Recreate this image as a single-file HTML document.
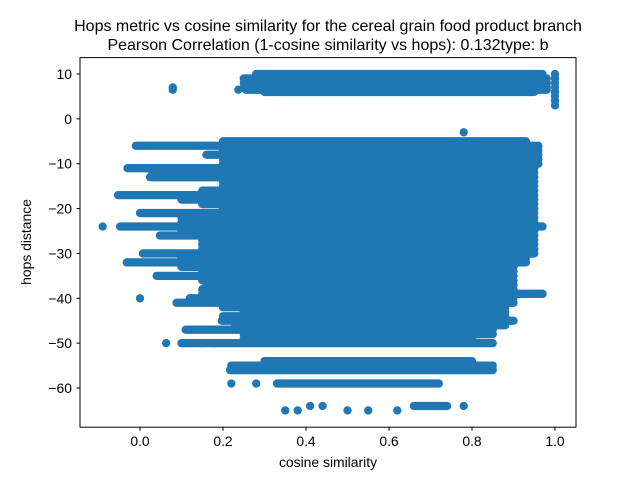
<!DOCTYPE html>
<html><head><meta charset="utf-8"><style>
body{margin:0;background:#fff;}
svg text{font-family:"Liberation Sans","DejaVu Sans",sans-serif;fill:#000;}
</style></head><body>
<svg width="640" height="480" xmlns="http://www.w3.org/2000/svg">
<rect width="640" height="480" fill="#fff"/>
<text x="328" y="31" text-anchor="middle" font-size="16">Hops metric vs cosine similarity for the cereal grain food product branch</text>
<text x="328" y="50" text-anchor="middle" font-size="16">Pearson Correlation (1-cosine similarity vs hops): 0.132type: b</text>
<g id="marks"></g>
<rect x="80" y="57.6" width="496" height="369.6" fill="none" stroke="#000" stroke-width="1"/>
<g id="axes"></g>
<text x="328" y="467" text-anchor="middle" font-size="13.9">cosine similarity</text>
<text transform="translate(31,242) rotate(-90)" text-anchor="middle" font-size="13.9">hops distance</text>
</svg>
<script>
const xTicks=[0,0.2,0.4,0.6,0.8,1.0];
const xTickLabels=["0.0","0.2","0.4","0.6","0.8","1.0"];
const yTicks=[10,0,-10,-20,-30,-40,-50,-60];
const yTickLabels=["10","0","\u221210","\u221220","\u221230","\u221240","\u221250","\u221260"];
const bandY=[10,9,8,7,6.5,6,-5,-6,-7,-8,-9,-10,-11,-12,-13,-14,-15,-16,-17,-18,-19,-20,-21,-22,-23,-24,-25,-26,-27,-28,-29,-30,-31,-32,-33,-34,-35,-36,-37,-38,-39,-40,-41,-42,-43,-44,-45,-46,-47,-48,-49,-50,-54,-55,-56,-59,-64];
const bandX0=[0.28,0.25,0.25,0.25,0.255,0.3,0.2,-0.01,0.2,0.16,0.2,0.2,-0.03,0.03,0.024,0.2,0.2,0.15,-0.053,0.1,0.15,0.2,0.0,0.1,0.1,-0.048,0.1,0.048,0.15,0.15,0.15,0.007,0.1,-0.032,0.1,0.15,0.04,0.15,0.16,0.15,0.15,0.12,0.088,0.2,0.25,0.2,0.197,0.23,0.11,0.25,0.25,0.1,0.3,0.22,0.217,0.33,0.66];
const bandX1=[0.97,0.98,0.98,0.98,0.98,0.95,0.93,0.96,0.96,0.96,0.96,0.96,0.95,0.95,0.95,0.95,0.95,0.95,0.95,0.95,0.95,0.95,0.95,0.95,0.95,0.97,0.95,0.95,0.95,0.95,0.95,0.95,0.93,0.93,0.9,0.9,0.9,0.9,0.9,0.9,0.97,0.9,0.9,0.88,0.88,0.88,0.9,0.88,0.85,0.85,0.8,0.85,0.8,0.85,0.85,0.72,0.74];
const ptX=[-0.09,0.079,0.079,0.237,0.0,0.063,0.12,0.15,0.18,0.22,0.28,0.35,0.38,0.41,0.44,0.5,0.55,0.62,0.78,0.96,0.97,0.83,0.78,1.0,1.0,1.0,1.0,1.0,1.0,1.0,1.0];
const ptY=[-24,6.5,7,6.5,-40,-50,-50,-50,-50,-59,-59,-65,-65,-64,-64,-65,-65,-65,-64,-39,-39,-55,-3,3,4,5,6,7,8,9,10];
const X=v=>140+v*415;
const Y=v=>74+(10-v)*4.486;
const NS="http://www.w3.org/2000/svg";
const marks=document.getElementById('marks');
const C="#1f77b4";
for(let i=0;i<bandY.length;i++){
  const l=document.createElementNS(NS,'line');
  l.setAttribute('x1',X(bandX0[i]));l.setAttribute('x2',X(bandX1[i]));
  l.setAttribute('y1',Y(bandY[i]));l.setAttribute('y2',Y(bandY[i]));
  l.setAttribute('stroke',C);l.setAttribute('stroke-width','8.3');l.setAttribute('stroke-linecap','round');
  
  
  marks.appendChild(l);
}
for(let i=0;i<ptX.length;i++){
  const c=document.createElementNS(NS,'circle');
  c.setAttribute('cx',X(ptX[i]));c.setAttribute('cy',Y(ptY[i]));c.setAttribute('r','4.15');c.setAttribute('fill',C);
  
  
  marks.appendChild(c);
}
const axes=document.getElementById('axes');
xTicks.forEach((v,i)=>{
  const t=document.createElementNS(NS,'line');
  t.setAttribute('x1',X(v));t.setAttribute('x2',X(v));t.setAttribute('y1',427.2);t.setAttribute('y2',430.7);t.setAttribute('stroke','#000');
  
  
  axes.appendChild(t);
  const s=document.createElementNS(NS,'text');
  s.setAttribute('x',X(v));s.setAttribute('y',446);s.setAttribute('text-anchor','middle');s.setAttribute('font-size','13.9');
  s.textContent=xTickLabels[i];
  
  
  axes.appendChild(s);
});
yTicks.forEach((v,i)=>{
  const t=document.createElementNS(NS,'line');
  t.setAttribute('x1',76.5);t.setAttribute('x2',80);t.setAttribute('y1',Y(v));t.setAttribute('y2',Y(v));t.setAttribute('stroke','#000');
  
  
  axes.appendChild(t);
  const s=document.createElementNS(NS,'text');
  s.setAttribute('x',72);s.setAttribute('y',Y(v)+5);s.setAttribute('text-anchor','end');s.setAttribute('font-size','13.9');
  s.textContent=yTickLabels[i];
  
  
  axes.appendChild(s);
});
</script>
</body></html>
